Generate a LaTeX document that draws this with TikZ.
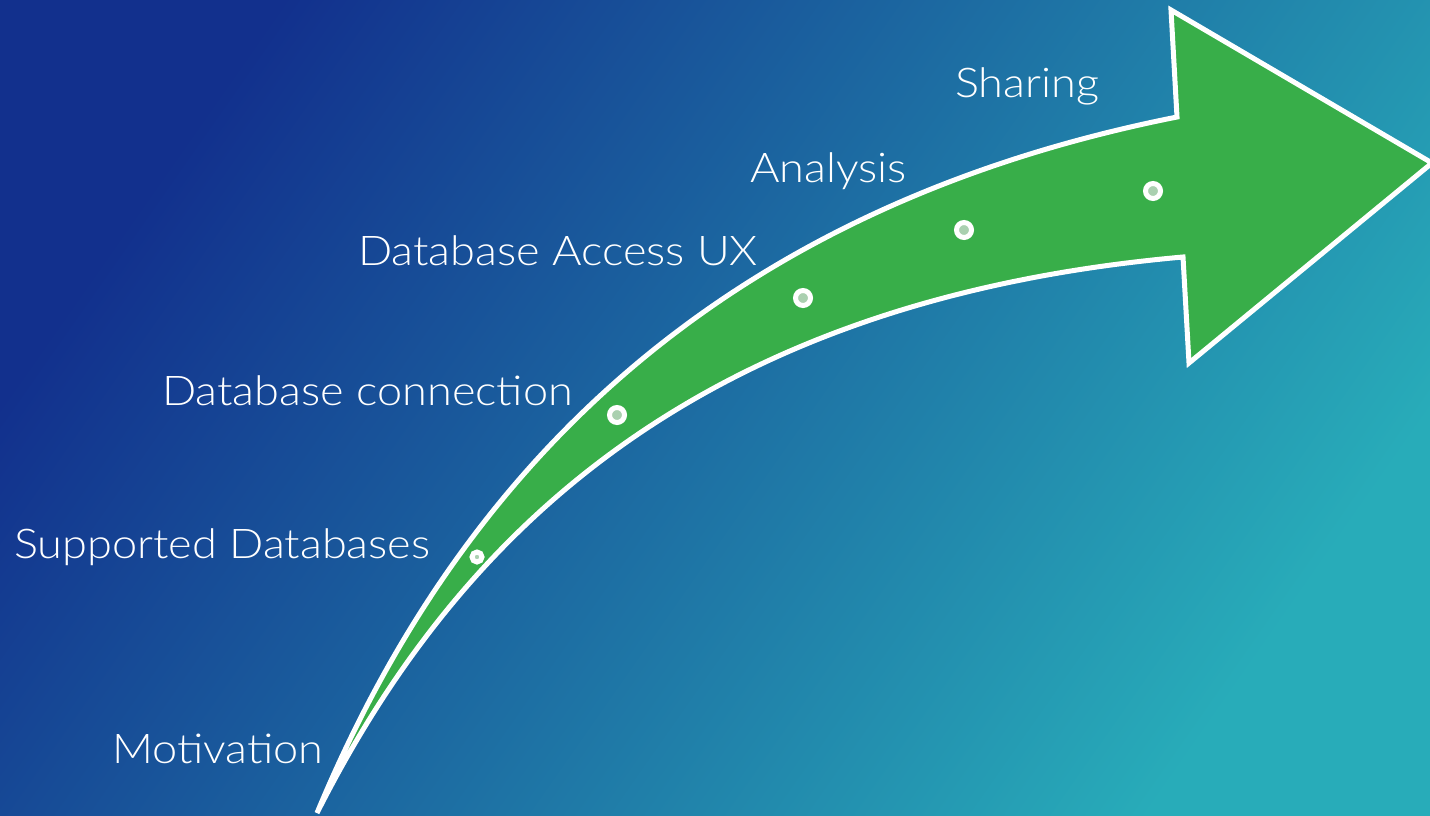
\documentclass[tikz,border=0pt]{standalone}
\usepackage{fontspec}
\newfontfamily\labelfont{Lato Light}[FakeStretch=1.1]
\definecolor{bgA}{RGB}{18,48,141}
\definecolor{bgB}{RGB}{40,172,185}
\definecolor{arrowgreen}{RGB}{56,174,73}
\definecolor{dotin}{RGB}{170,208,176}
\begin{document}
\begin{tikzpicture}[x=1pt,y=-1pt,
  lbl/.style={anchor=base west, inner sep=0pt, text=white, font=\labelfont\fontsize{41}{49}\selectfont},
  dotbig/.style={circle, fill=dotin, draw=white, line width=5pt, inner sep=0pt, minimum size=15pt},
  dotsmall/.style={circle, fill=dotin, draw=white, line width=5pt, inner sep=0pt, minimum size=10pt},
  arrowbody/.style={fill=arrowgreen, draw=white, line width=5pt, line join=miter, miter limit=4}]
\useasboundingbox (0,0) rectangle (1430,816);
\shade[left color=bgA, right color=bgB, shading angle=55] (0,0) rectangle (1430,816);
% arrow
\coordinate (tail) at (317,813);
\coordinate (nu) at (1177,117);
\coordinate (hu) at (1171,10);
\coordinate (tip) at (1432,163);
\coordinate (hl) at (1189,363);
\coordinate (nl) at (1183,257);
\draw[arrowbody] (tail) .. controls (476,430) and (760,200) .. (nu) -- (hu) -- (tip) -- (hl) -- (nl) .. controls (700,300) and (460,530) .. (tail) -- cycle;
% dots
\node[dotsmall] (d1) at (477,557) {};
\node[dotbig] (d2) at (617,415) {};
\node[dotbig] (d3) at (803,298) {};
\node[dotbig] (d4) at (964,230) {};
\node[dotbig] (d5) at (1153,191) {};
% labels
\node[lbl] (l1) at (112,763) {Motivation};
\node[lbl] (l2) at (14,558) {Supported Databases};
\node[lbl] (l3) at (162,405) {Database connection};
\node[lbl] (l4) at (358,265) {Database Access UX};
\node[lbl] (l5) at (750,182) {Analysis};
\node[lbl] (l6) at (955,98) {Sharing};
\end{tikzpicture}
\end{document}
